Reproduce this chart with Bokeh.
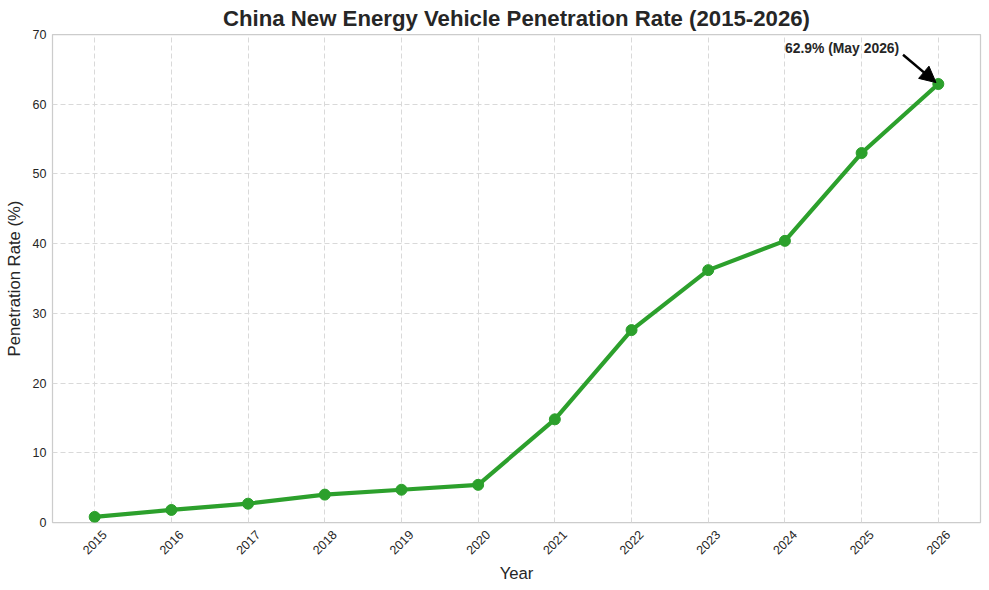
import math
from bokeh.plotting import figure
from bokeh.models import Range1d, FixedTicker, Arrow, NormalHead, ColumnDataSource, NumeralTickFormatter
from bokeh.core.properties import value
from bokeh.embed import file_html
from bokeh.resources import INLINE

years = [2015, 2016, 2017, 2018, 2019, 2020, 2021, 2022, 2023, 2024, 2025, 2026]
penetration = [0.8, 1.8, 2.7, 4.0, 4.7, 5.4, 14.8, 27.6, 36.2, 40.4, 53.0, 62.9]
y_ticks = [0, 10, 20, 30, 40, 50, 60, 70]
title_text = "China New Energy Vehicle Penetration Rate (2015-2026)"
x_label = "Year"
y_label = "Penetration Rate (%)"
annot_text = "62.9% (May 2026)"
annot_x = 2024
annot_y = 68

FONT = "Liberation Sans"
TXT = "#262626"
GREEN = "#2ca02c"
TICK_FS = "12.5px"

X0, X1 = 2014.45, 2026.55
FRAME_W = 928
# Bokeh anchors rotated labels at their end; shift the label anchor by half the
# rotated label width so each label appears centred on its year
label_shift = 9.8 * (X1 - X0) / FRAME_W

p = figure(width=989, height=590, output_backend="svg", toolbar_location=None,
           x_range=Range1d(X0, X1), y_range=Range1d(0, 70),
           min_border_left=52, min_border_right=9, min_border_top=34, min_border_bottom=68)

p.title.text = title_text
p.title.align = "center"
p.title.text_font = FONT
p.title.text_font_size = "22.2px"
p.title.text_font_style = "bold"
p.title.text_color = TXT
p.title.standoff = 7

p.outline_line_color = "#cccccc"
p.outline_line_width = 1.25

for ax in (p.xaxis[0], p.yaxis[0]):
    ax.axis_line_color = None
    ax.major_tick_line_color = None
    ax.minor_tick_line_color = None
    ax.major_tick_out = 0
    ax.major_tick_in = 0
    ax.major_label_text_font = FONT
    ax.major_label_text_font_size = TICK_FS
    ax.major_label_text_color = TXT
    ax.axis_label_text_font = FONT
    ax.axis_label_text_font_size = "16.7px"
    ax.axis_label_text_font_style = "normal"
    ax.axis_label_text_color = TXT

p.xaxis.ticker = FixedTicker(ticks=[y + label_shift for y in years])
p.xaxis.formatter = NumeralTickFormatter(format="0")
p.xaxis.major_label_orientation = math.pi / 4
p.yaxis.ticker = FixedTicker(ticks=y_ticks)
p.xaxis.axis_label = x_label
p.yaxis.axis_label = y_label
p.yaxis.major_label_standoff = 6
p.xaxis.major_label_standoff = 10
p.yaxis.axis_label_standoff = 6
p.xaxis.axis_label_standoff = 2

p.xgrid[0].ticker = FixedTicker(ticks=years)
for g in (p.xgrid[0], p.ygrid[0]):
    g.grid_line_color = "#d9d9d9"
    g.grid_line_dash = "5 3"
    g.grid_line_width = 1

src = ColumnDataSource(dict(x=years, y=penetration))
p.line("x", "y", source=src, line_color=GREEN, line_width=4.2)
p.scatter("x", "y", source=src, size=11, fill_color=GREEN, line_color=GREEN)

p.text(x=[annot_x], y=[annot_y], text=[annot_text], text_font=value(FONT),
       text_font_size="13.9px", text_font_style="bold", text_color=TXT,
       text_baseline="alphabetic", text_align="left")

last_x, last_y = years[-1], penetration[-1]
p.add_layout(Arrow(end=NormalHead(size=16, fill_color="black", line_color="black"),
                   x_start=last_x - 0.46, y_start=last_y + 4.2,
                   x_end=last_x - 0.03, y_end=last_y + 0.2,
                   line_color="black", line_width=2.5))

open("out.html", "w").write(file_html(p, INLINE))
